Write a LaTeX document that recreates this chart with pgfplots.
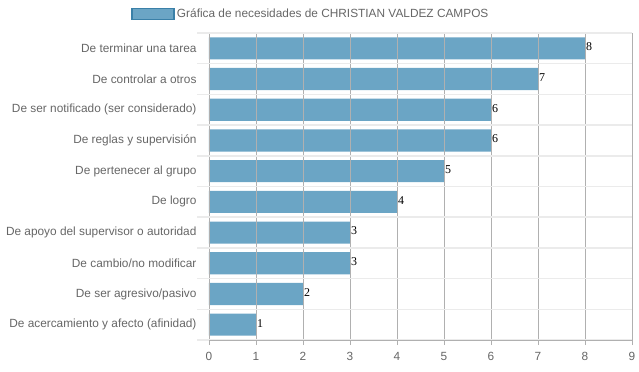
\documentclass[border=0pt]{standalone}
\usepackage{pgfplots}
\pgfplotsset{compat=1.18}
\usepackage{fontspec}
\setmainfont{Liberation Sans}
\newfontfamily\seriffont{Liberation Serif}
\definecolor{barc}{HTML}{6BA5C5}
\definecolor{legb}{HTML}{3A80A8}
\definecolor{tickc}{HTML}{666666}
\definecolor{vgrid}{HTML}{B0B0B0}
\definecolor{hgrid}{HTML}{EBEBEB}
\begin{document}
\begin{tikzpicture}
\useasboundingbox (-209bp,-32bp) rectangle (430bp,340bp);
\begin{axis}[
  at={(0,0)}, anchor=south west,
  scale only axis, width=423bp, height=307bp,
  xbar, bar width=0.72,
  xmin=0, xmax=9, ymin=-0.5, ymax=9.5, y dir=reverse,
  xtick={0,...,9}, ytick={0,...,9},
  yticklabels={De terminar una tarea, De controlar a otros, De ser notificado (ser considerado), De reglas y supervisión, De pertenecer al grupo, De logro, De apoyo del supervisor o autoridad, De cambio/no modificar, De ser agresivo/pasivo, De acercamiento y afecto (afinidad)},
  minor ytick={-0.5,0.5,...,9.5},
  xmajorgrids, yminorgrids,
  major grid style={draw=vgrid, line width=0.9bp},
  minor grid style={draw=hgrid, line width=1.5bp},
  axis on top,
  axis x line*=bottom, axis y line*=left,
  x axis line style={draw=vgrid, line width=0.9bp, -},
  y axis line style={draw=none},
  tick align=outside,
  major tick length=5bp, minor tick length=12bp,
  major x tick style={draw=vgrid, line width=0.9bp},
  major y tick style={draw=none},
  minor y tick style={draw=hgrid, line width=1.5bp},
  /pgf/number format/assume math mode=true,
  tick label style={font=\fontsize{11.9}{14}\selectfont, text=tickc},
  yticklabel style={xshift=-4bp},
  xticklabel style={yshift=-4bp},
  nodes near coords,
  nodes near coords style={font=\seriffont\fontsize{12}{12}\selectfont, anchor=west, inner sep=1bp, yshift=1.5bp, text=black},
  legend style={at={(-0.1844,1.062)}, anchor=west, draw=none, fill=none, inner sep=0pt,
    font=\fontsize{11.9}{14}\selectfont, text=tickc,
    nodes={inner sep=2bp}},
]
\addplot[fill=barc, draw=none,
  legend image code/.code={\draw[fill=barc,draw=legb,line width=1.8bp] (0bp,-5.5bp) rectangle (42bp,5.5bp);}]
  coordinates {(8,0) (7,1) (6,2) (6,3) (5,4) (4,5) (3,6) (3,7) (2,8) (1,9)};
\addlegendentry{Gráfica de necesidades de CHRISTIAN VALDEZ CAMPOS}
\end{axis}
\end{tikzpicture}
\end{document}
